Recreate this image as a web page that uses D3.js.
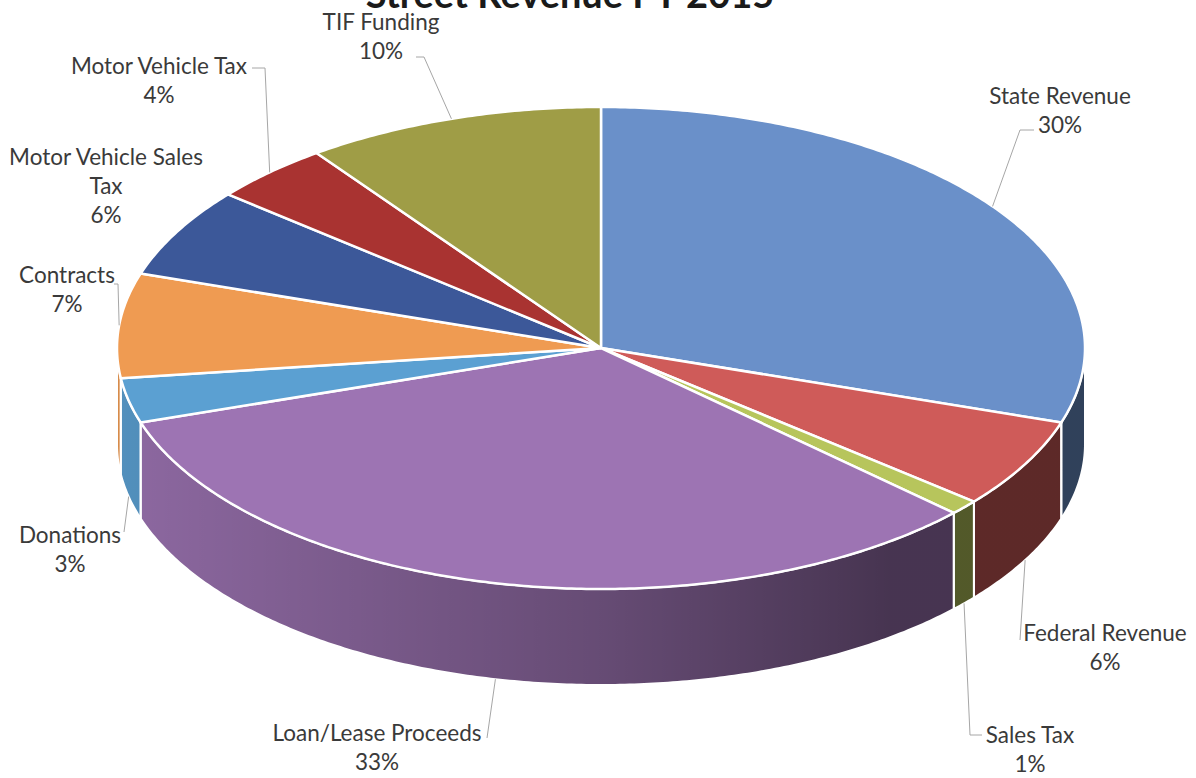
<!DOCTYPE html>
<html lang="en">
<head>
    <meta charset="UTF-8">
    <title>Street Revenue FY 2015</title>
    <script src="https://d3js.org/d3.v7.min.js"></script>
    <style>
        body { margin: 0; background: #fff; }
        svg { display: block; }
        .label text { font-family: Lato, "Open Sans", sans-serif; font-size: 22.5px; fill: #3a3a3a; }
        .title { font-family: Lato, "Open Sans", sans-serif; font-size: 38px; font-weight: bold; fill: #1a1a1a; }
    </style>
</head>
<body>
<svg id="chart" width="1196" height="778"></svg>
<script>
    // data
    const categories = ["State Revenue", "Federal Revenue", "Sales Tax", "Loan/Lease Proceeds",
        "Donations", "Contracts", "Motor Vehicle Sales Tax", "Motor Vehicle Tax", "TIF Funding"];
    const shares = [30, 6, 1, 33, 3, 7, 6, 4, 10];
    const labelLines = [["State Revenue"], ["Federal Revenue"], ["Sales Tax"], ["Loan/Lease Proceeds"],
        ["Donations"], ["Contracts"], ["Motor Vehicle Sales", "Tax"], ["Motor Vehicle Tax"], ["TIF Funding"]];

    // styles
    const topColors = ["#6a90c9", "#cf5b59", "#b7c55c", "#9d74b3", "#5ba0d2", "#ef9b52", "#3c5899", "#a93331", "#9f9d46"];

    // layout of the 3D pie (ellipse) and labels
    const cx = 601, cy = 348, rx = 484, ry = 241, depth = 96;
    const labelPos = {
        "State Revenue":           { x: 1060, y: 104, line: [[1034, 130], [1020, 130]] },
        "Federal Revenue":         { x: 1105, y: 641, line: [[1020, 640]] },
        "Sales Tax":               { x: 1030, y: 743, line: [[982, 735], [970, 735]] },
        "Loan/Lease Proceeds":     { x: 377,  y: 741, line: [[487, 738]] },
        "Donations":               { x: 70,   y: 543, line: [[124, 532]] },
        "Contracts":               { x: 67,   y: 283, line: [[114, 284], [118, 284]] },
        "Motor Vehicle Sales Tax": { x: 106,  y: 165, line: null },
        "Motor Vehicle Tax":       { x: 159,  y: 74,  line: [[252, 68], [265, 68]] },
        "TIF Funding":             { x: 381,  y: 30,  line: [[416, 57], [424, 57]] }
    };

    const data = categories.map((c, i) => ({ name: c, value: shares[i], color: topColors[i], lines: labelLines[i] }));

    const svg = d3.select("#chart");

    const pie = d3.pie().value(d => d.value).sort(null).startAngle(0).endAngle(2 * Math.PI);
    const arcs = pie(data);

    const pt = (a, dy = 0) => [cx + rx * Math.sin(a), cy - ry * Math.cos(a) + dy];
    const sample = (a0, a1, dy) => {
        const n = Math.max(2, Math.ceil((a1 - a0) / 0.01));
        return d3.range(n + 1).map(i => pt(a0 + (a1 - a0) * i / n, dy));
    };
    const line = d3.line();

    // gradient for side shading
    const defs = svg.append("defs");
    const grad = defs.append("linearGradient")
        .attr("id", "sideShade")
        .attr("gradientUnits", "userSpaceOnUse")
        .attr("x1", cx - rx).attr("x2", cx + rx).attr("y1", 0).attr("y2", 0);
    [[0, 0.1], [0.5, 0.35], [0.8, 0.55], [1, 0.55]].forEach(([o, a]) => {
        grad.append("stop").attr("offset", o).attr("stop-color", "#000").attr("stop-opacity", a);
    });

    // side (outer wall) of each slice, only the front half is visible
    const sides = arcs.map(d => {
        const s = Math.max(d.startAngle, Math.PI / 2), e = Math.min(d.endAngle, 3 * Math.PI / 2);
        if (s >= e) return null;
        const pts = sample(s, e, 0).concat(sample(s, e, depth).reverse());
        return { d, path: line(pts) + "Z" };
    }).filter(Boolean);

    const sideG = svg.append("g").attr("class", "sides");
    sideG.selectAll(".side-base").data(sides).enter().append("path")
        .attr("d", s => s.path).attr("fill", s => s.d.data.color);
    sideG.selectAll(".side-shade").data(sides).enter().append("path")
        .attr("d", s => s.path).attr("fill", "url(#sideShade)");
    sideG.selectAll(".side-edge").data(sides).enter().append("path")
        .attr("d", s => s.path).attr("fill", "none")
        .attr("stroke", "#fff").attr("stroke-width", 2).attr("stroke-linejoin", "round");

    // top faces
    svg.append("g").attr("class", "tops")
        .selectAll("path").data(arcs).enter().append("path")
        .attr("d", d => line([[cx, cy]].concat(sample(d.startAngle, d.endAngle, 0))) + "Z")
        .attr("fill", d => d.data.color)
        .attr("stroke", "#fff").attr("stroke-width", 2.5).attr("stroke-linejoin", "round");

    // leader lines
    const leaders = svg.append("g").attr("class", "leaders");
    arcs.forEach(d => {
        const lp = labelPos[d.data.name];
        if (!lp.line) return;
        const mid = (d.startAngle + d.endAngle) / 2;
        const front = mid > Math.PI / 2 && mid < 3 * Math.PI / 2;
        const anchor = pt(mid, front ? depth : 0);
        leaders.append("path")
            .attr("d", line(lp.line.concat([anchor])))
            .attr("fill", "none").attr("stroke", "#a6a6a6").attr("stroke-width", 1);
    });

    // labels
    const fmt = v => Math.round(v / d3.sum(shares) * 100) + "%";
    const labels = svg.append("g").attr("class", "label");
    arcs.forEach(d => {
        const lp = labelPos[d.data.name];
        const rows = d.data.lines.concat([fmt(d.data.value)]);
        const t = labels.append("text").attr("text-anchor", "middle");
        rows.forEach((r, i) => {
            t.append("tspan").attr("x", lp.x).attr("y", lp.y + i * 29).text(r);
        });
    });

    // title (cut off at the top like the original)
    svg.append("text").attr("class", "title")
        .attr("x", 570).attr("y", 8)
        .attr("text-anchor", "middle")
        .text("Street Revenue FY 2015");
</script>
</body>
</html>
